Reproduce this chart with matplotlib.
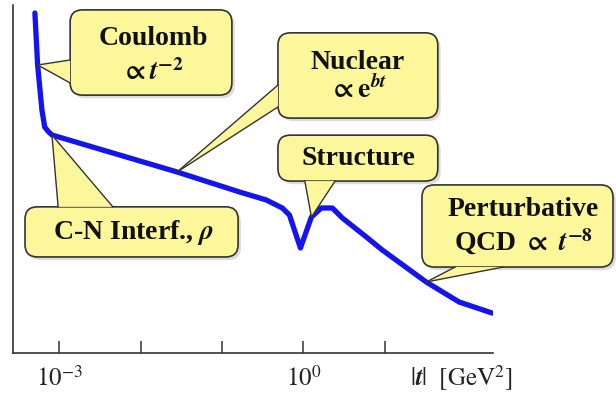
import matplotlib
matplotlib.use('Agg')
import matplotlib.pyplot as plt
from matplotlib.patches import FancyBboxPatch, Polygon
from matplotlib.lines import Line2D

# schematic elastic pp cross section vs |t|
t_vals = [5.0e-4, 5.4e-4, 6.1e-4, 6.6e-4, 7.2e-4, 8.1e-4, 0.028, 0.164, 0.35,
          0.55, 0.673, 0.919, 1.254, 1.66, 2.27, 3.01, 5.93, 9.31, 32.3, 82, 208]
sigma = [3.40, 2.88, 2.43, 2.26, 2.22, 2.18, 1.81, 1.61, 1.53,
         1.45, 1.38, 1.05, 1.36, 1.45, 1.45, 1.35, 1.16, 1.03, 0.71, 0.51, 0.40]

tick_pos = [1e-3, 1e-2, 1e-1, 1e0, 1e1]
tick_lbl = [r'$10^{-3}$', '', '', r'$10^{0}$', '']

plt.rcParams['font.family'] = ['Liberation Serif', 'DejaVu Serif']
plt.rcParams['mathtext.fontset'] = 'stix'

fig = plt.figure(figsize=(6.16, 4.0), dpi=100)
ax = fig.add_axes([13/616, 47/400, 480/616, 348/400])

ax.plot(t_vals, sigma, color='#1414f0', lw=3.8, solid_joinstyle='round',
        solid_capstyle='round', zorder=2)
ax.set_xscale('log')
ax.set_xlim(2.69e-4, 214)
ax.set_ylim(0, 3.48)

for s in ['top', 'right']:
    ax.spines[s].set_visible(False)
for s in ['left', 'bottom']:
    ax.spines[s].set_color('#333333')
    ax.spines[s].set_linewidth(1.2)
ax.set_yticks([])
ax.set_xticks(tick_pos)
ax.set_xticklabels(tick_lbl)
ax.xaxis.set_minor_locator(matplotlib.ticker.NullLocator())
ax.tick_params(axis='x', direction='in', length=9, width=1.1, color='#333333',
               labelsize=18, pad=9, labelcolor='#222222')

ax.text(0.935, -0.072, r'$|\mathbfit{t}|\ \ [\mathrm{GeV}^2]$', transform=ax.transAxes,
        ha='center', va='center', fontsize=18, color='#222222')

yellow = '#fdf79c'
edge = '#333333'


def to_axes(i):
    p = ax.transData.transform((t_vals[i], sigma[i]))
    return ax.transAxes.inverted().transform(p)


def callout(box, base, tip_idx, lines):
    x0, y0, x1, y1 = box
    w, h = x1 - x0, y1 - y0
    sh = FancyBboxPatch((x0 + 0.006, y0 - 0.009), w, h,
                        boxstyle='round,pad=0,rounding_size=0.026', mutation_aspect=1.38,
                        transform=ax.transAxes, facecolor='#bbbbbb', edgecolor='none',
                        alpha=0.5, clip_on=False, zorder=3)
    ax.add_patch(sh)
    bx = FancyBboxPatch((x0, y0), w, h,
                        boxstyle='round,pad=0,rounding_size=0.026', mutation_aspect=1.38,
                        transform=ax.transAxes, facecolor=yellow, edgecolor=edge,
                        lw=1.2, clip_on=False, zorder=4)
    ax.add_patch(bx)
    tip = to_axes(tip_idx)
    b1, b2 = base
    wedge = Polygon([b1, b2, tip], closed=True, transform=ax.transAxes,
                    facecolor=yellow, edgecolor='none', clip_on=False, zorder=5)
    ax.add_patch(wedge)
    for b in (b1, b2):
        ax.add_line(Line2D([b[0], tip[0]], [b[1], tip[1]], transform=ax.transAxes,
                           color=edge, lw=1.0, clip_on=False, zorder=6))
    for (tx, ty, s) in lines:
        ax.text(tx, ty, s, transform=ax.transAxes, ha='center', va='center',
                fontsize=20, fontweight='bold', color='#111111', zorder=7)


# Coulomb
callout((0.119, 0.741, 0.456, 0.986), ((0.119, 0.842), (0.119, 0.776)), 1,
        [(0.292, 0.905, 'Coulomb'),
         (0.290, 0.805, r'$\mathbf{\propto}\mathbfit{t}^{\mathbf{-2}}$')])
# Nuclear
callout((0.552, 0.675, 0.885, 0.920), ((0.552, 0.770), (0.552, 0.707)), 6,
        [(0.719, 0.836, 'Nuclear'),
         (0.719, 0.756, r'$\mathbf{\propto e}^{\mathbfit{bt}}$')])
# Structure
callout((0.552, 0.494, 0.885, 0.626), ((0.608, 0.494), (0.671, 0.494)), 12,
        [(0.719, 0.560, 'Structure')])
# C-N interference
callout((0.025, 0.276, 0.469, 0.420), ((0.094, 0.420), (0.208, 0.420)), 5,
        [(0.250, 0.345, r'C-N Interf., $\mathbfit{\rho}$')])
# Perturbative QCD
callout((0.852, 0.247, 1.250, 0.483), ((0.921, 0.247), (1.021, 0.247)), 18,
        [(1.0625, 0.411, 'Perturbative'),
         (1.0625, 0.319, r'QCD $\mathbf{\propto}$ $\mathbfit{t}^{\mathbf{-8}}$')])

fig.savefig('out.png', dpi=100)
